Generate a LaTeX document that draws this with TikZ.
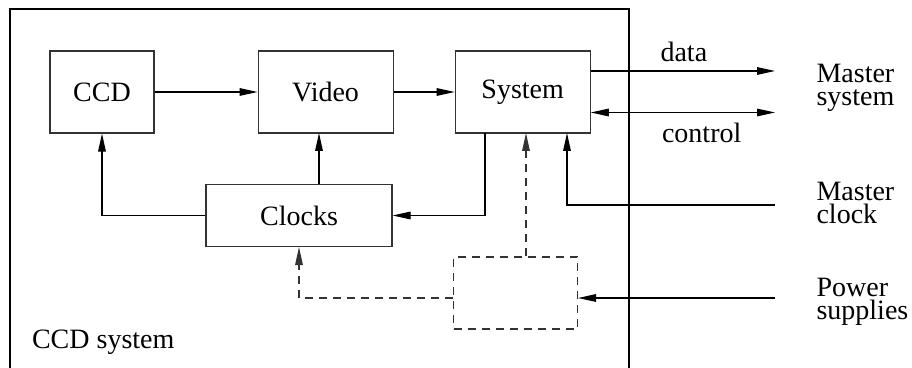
\documentclass[tikz,border=0pt]{standalone}
\usepackage{fontspec}
\setmainfont{Liberation Serif}
\usetikzlibrary{arrows.meta, positioning, calc}

\begin{document}
\begin{tikzpicture}[x=0.5pt,y=-0.5pt,font=\fontsize{14}{11.5}\selectfont,
  line width=0.55pt,
  block/.style={draw=black!80,minimum width=67.5pt,minimum height=41pt,inner sep=0pt},
  arrow/.style={-{Triangle[length=9pt,width=3.8pt]}},
  biarrow/.style={{Triangle[length=9pt,width=3.8pt]}-{Triangle[length=9pt,width=3.8pt]}},
  supply/.style={dash pattern=on 4pt off 3pt},
  side/.style={anchor=north west,align=left,inner sep=0pt},
  lbl/.style={anchor=base west,inner sep=0pt}]
  \useasboundingbox (0,0) rectangle (912,368);
  % frame of the CCD system, open at the bottom
  \draw (10,368) -- (10,9) -- (629,9) -- (629,368);
  \node[block,minimum width=52pt] (ccd) at (102,92) {CCD};
  \node[block,right=51.5pt of ccd] (video) {Video};
  \node[block,right=30.5pt of video] (sys) {System};
  \node[block,minimum width=93pt,minimum height=31pt] (clk) at (299,215.5) {Clocks};
  \node[block,supply,minimum width=62pt,minimum height=36pt] (pwr) at (515.5,293) {};
  \node[lbl] (sysname) at (31.5,349) {CCD system};
  % outside world
  \coordinate (datend) at (775,71);
  \coordinate (ctlend) at (775,112.5);
  \coordinate (mclk) at (775,205);
  \coordinate (psup) at (775,298);
  \node[lbl] (datlbl) at (660,61.5) {data};
  \node[lbl] (ctllbl) at (661.5,142.5) {control};
  \node[side] (mastsys) at (816,64) {Master\\system};
  \node[side] (mastclk) at (816,182) {Master\\clock};
  \node[side] (power) at (816,277.5) {Power\\supplies};
  % entry points on the lower edges
  \coordinate (vin) at (319,133);
  \coordinate (sout) at (485,133);
  \coordinate (pin) at (526,133);
  \coordinate (min) at (567,133);
  \draw[arrow] (ccd) -- (video);
  \draw[arrow] (video) -- (sys);
  \draw[arrow] (sys.east |- datend) -- (datend);
  \draw[biarrow] (sys.east |- ctlend) -- (ctlend);
  \draw[arrow] (clk.west) -| (ccd.south);
  \draw[arrow] (clk.north -| vin) -- (vin);
  \draw[arrow] (sout) |- (clk.east);
  \draw[arrow,supply,black!80] (pwr.north -| pin) -- (pin);
  \draw[arrow] (mclk) -| (min);
  \draw[arrow] (psup) -- (pwr.east |- psup);
  \draw[arrow,supply,black!80] (pwr.west |- psup) -| (clk.south);
\end{tikzpicture}
\end{document}
